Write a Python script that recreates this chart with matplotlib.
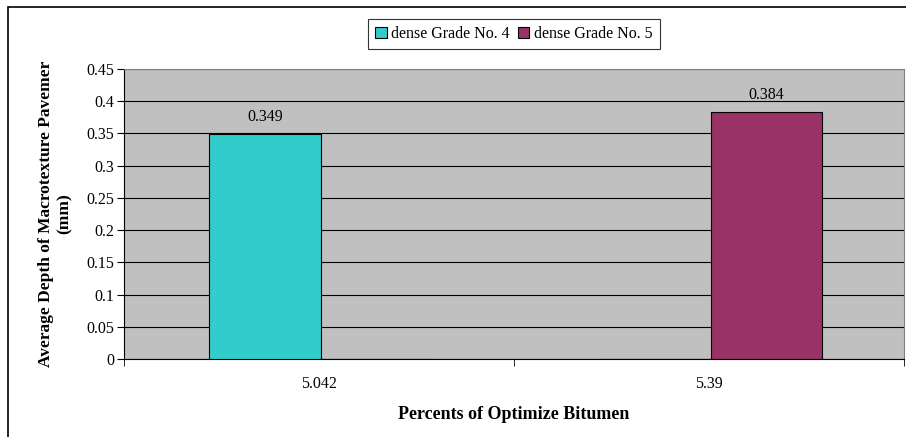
import numpy as np
import matplotlib.pyplot as plt
from matplotlib.patches import Rectangle

# data
categories = ['5.042', '5.39']
series_names = ['dense Grade No. 4', 'dense Grade No. 5']
grade4 = [0.349, 0]
grade5 = [0, 0.384]
colors = ['#33CCCC', '#993366']

plt.rcParams['font.family'] = ['Liberation Serif', 'DejaVu Serif']

fig = plt.figure(figsize=(9.06, 4.37), dpi=100)
ax = fig.add_axes([124 / 906, 1 - 359 / 437, (904 - 124) / 906, (359 - 69) / 437])

# outer chart border (cut off at right and bottom like the reference)
fig.patches.append(Rectangle((8 / 906, -0.05), 1.2, 1 - 7 / 437 + 0.05,
                             transform=fig.transFigure, fill=False,
                             edgecolor='black', linewidth=1.2))

x = np.arange(len(categories))
w = 0.286
vals = [grade4, grade5]
for i, (name, v, c) in enumerate(zip(series_names, vals, colors)):
    offs = (i - 0.5) * w + 0.005
    bars = ax.bar(x + offs, v, width=w, color=c, edgecolor='black',
                  linewidth=0.8, label=name, zorder=3)
    for b, val in zip(bars, v):
        if val > 0:
            ax.text(b.get_x() + b.get_width() / 2, val + 0.014, f'{val:.3f}',
                    ha='center', va='bottom', fontsize=11.5, zorder=4)

ax.set_facecolor('#C0C0C0')
ax.set_xlim(-0.5, 1.5)
ax.set_ylim(0, 0.45)
ax.set_yticks(np.arange(0, 0.451, 0.05))
ax.set_yticklabels(['0', '0.05', '0.1', '0.15', '0.2', '0.25', '0.3', '0.35', '0.4', '0.45'])
ax.yaxis.grid(True, color='black', linewidth=0.8, zorder=0)
ax.set_axisbelow(True)

ax.set_xticks(x)
ax.set_xticklabels(categories)
ax.set_xticks([-0.5, 0.5, 1.5], minor=True)
ax.tick_params(axis='x', which='major', length=0, pad=12, labelsize=11.5)
ax.tick_params(axis='x', which='minor', length=5, direction='out')
ax.tick_params(axis='y', length=5, direction='out', labelsize=11.5, pad=2)

for s in ['top', 'right']:
    ax.spines[s].set_color('#808080')
ax.spines['left'].set_color('black')
ax.spines['bottom'].set_color('black')

ax.set_xlabel('Percents of Optimize Bitumen', fontsize=13, fontweight='bold', labelpad=10)
ax.set_ylabel('Average Depth of Macrotexture Pavemer\n(mm)', fontsize=12.5,
              fontweight='bold', labelpad=10)

leg = ax.legend(loc='upper center', bbox_to_anchor=(0.5, 1.19), ncol=2,
                frameon=True, fancybox=False, fontsize=11.5, handlelength=0.7,
                handleheight=0.7, handletextpad=0.3, columnspacing=0.5,
                borderpad=0.45, borderaxespad=0.3)
leg.get_frame().set_edgecolor('black')
leg.get_frame().set_linewidth(0.8)

fig.savefig('out.png', dpi=100)
